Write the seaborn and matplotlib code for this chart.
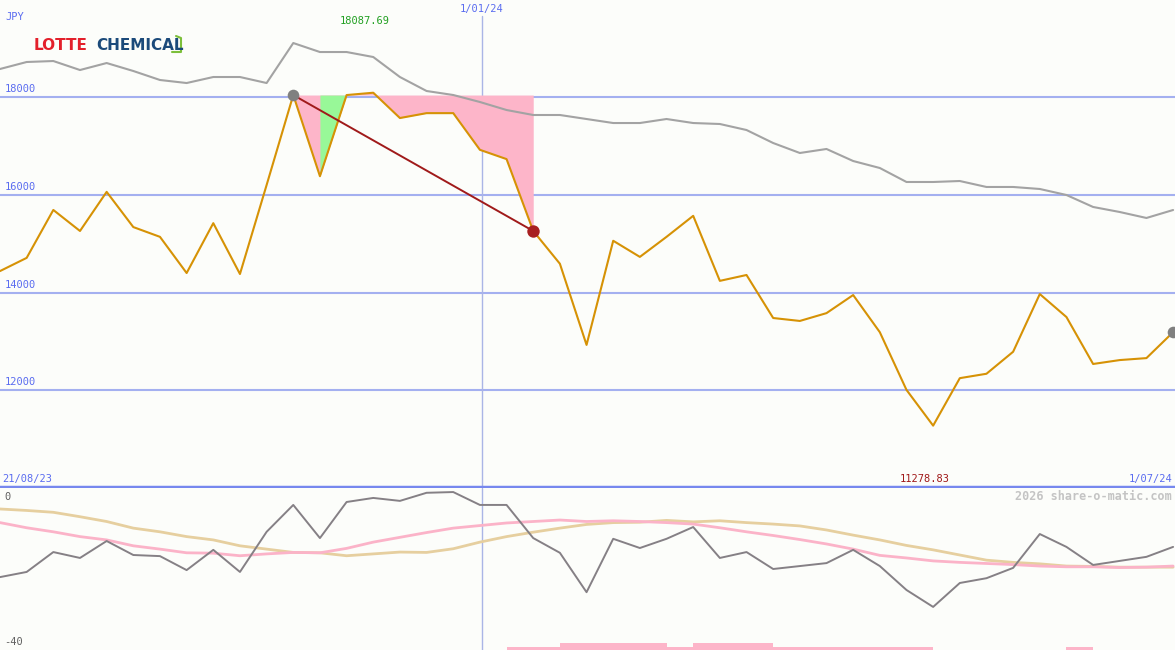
import pandas as pd
import matplotlib
matplotlib.use("Agg")
import matplotlib.pyplot as plt
import matplotlib.transforms as mtransforms
from matplotlib.lines import Line2D
import seaborn as sns

# weekly closes, 28/08/23 .. 1/07/24
weeks = pd.date_range("2023-08-28", periods=45, freq="7D")

close_jpy = [14440, 14710, 15690, 15260, 16060, 15340, 15140, 14400, 15420, 14380,
             16200, 18040, 16380, 18040, 18087.69, 17570, 17670, 17670, 16920, 16730,
             15260, 14590, 12930, 15060, 14730, 15140, 15570, 14240, 14360, 13480,
             13420, 13580, 13950, 13190, 12010, 11278.83, 12250, 12340, 12790, 13970,
             13500, 12540, 12620, 12660, 13190]

# grey comparison line in the price panel
compare_jpy = [18573, 18716, 18736, 18552, 18695, 18532, 18348, 18286, 18409, 18409,
               18286, 19104, 18920, 18920, 18818, 18409, 18123, 18041, 17898, 17734,
               17632, 17632, 17550, 17468, 17468, 17550, 17468, 17448, 17325, 17059,
               16855, 16937, 16691, 16548, 16262, 16262, 16282, 16160, 16160, 16119,
               15996, 15751, 15648, 15526, 15689]

# lower panel
momentum = [-20.7, -19.3, -13.9, -15.5, -10.9, -14.7, -15.0, -18.8, -13.3, -19.3,
            -8.4, -1.1, -10.1, -0.3, 0.8, 0.0, 2.2, 2.4, -1.1, -1.1,
            -10.1, -14.1, -24.8, -10.3, -12.8, -10.3, -7.1, -15.5, -13.9, -18.5,
            -17.7, -16.9, -13.3, -17.7, -24.2, -28.8, -22.3, -21.0, -18.2, -9.0,
            -12.5, -17.4, -16.3, -15.2, -12.5]
avg_fast = [-5.9, -7.3, -8.4, -9.7, -10.6, -12.2, -13.1, -14.1, -14.2, -14.9,
            -14.4, -14.0, -14.1, -12.9, -11.2, -9.9, -8.6, -7.4, -6.7, -6.0,
            -5.6, -5.2, -5.6, -5.4, -5.6, -5.9, -6.3, -7.3, -8.4, -9.4,
            -10.5, -11.7, -13.1, -14.8, -15.5, -16.3, -16.7, -17.0, -17.3, -17.7,
            -17.9, -17.9, -18.1, -18.0, -17.7]
avg_slow = [-2.2, -2.6, -3.1, -4.3, -5.6, -7.4, -8.4, -9.7, -10.6, -12.2,
            -13.1, -14.0, -14.1, -14.9, -14.4, -13.9, -14.0, -13.0, -11.2, -9.7,
            -8.5, -7.4, -6.4, -5.9, -5.8, -5.3, -5.7, -5.4, -5.9, -6.3,
            -6.8, -7.9, -9.3, -10.6, -12.1, -13.3, -14.7, -16.1, -16.7, -17.1,
            -17.7, -17.8, -18.0, -18.0, -18.0]
signal_bars = [0, 0, 0, 0, 0, 0, 0, 0, 0, 0,
               0, 0, 0, 0, 0, 0, 0, 0, 0, 0.9,
               0.9, 1.9, 1.9, 1.9, 1.9, 0.9, 1.9, 1.9, 1.9, 0.9,
               0.9, 0.9, 0.9, 0.9, 0.9, 0, 0, 0, 0, 0,
               0.9, 0, 0, 0, 0]

grid_levels = [12000, 14000, 16000, 18000]
trend_start, trend_end = 11, 20
green_segment = 12

BG = "#fcfdfa"
BLUE_TXT = "#5a6cf0"
GRID = "#a4b0f0"
MONO = "DejaVu Sans Mono"

sns.set_style("white")
plt.rcParams["font.family"] = ["DejaVu Sans"]

fig = plt.figure(figsize=(11.75, 6.5), dpi=100, facecolor=BG)
ax = fig.add_axes([0, 163 / 650, 1, 487 / 650], facecolor=BG)
ax2 = fig.add_axes([0, 0, 1, 162 / 650], facecolor=BG)

x_left = weeks[0]
x_right = weeks[0] + pd.Timedelta(days=308.5)
new_year = pd.Timestamp("2024-01-01") + pd.Timedelta(days=0.5)

# ---- price panel
for lvl in grid_levels:
    ax.axhline(lvl, color=GRID, lw=1.5, zorder=1)
ax.axvline(new_year, ymax=0.967, color="#aab5e6", lw=1, zorder=1)

start_lvl = close_jpy[trend_start]
span = slice(trend_start, trend_end + 1)
ax.fill_between(weeks[span], close_jpy[span], start_lvl, color="#fdb5c9", lw=0, zorder=2)
g = slice(green_segment, green_segment + 2)
ax.fill_between(weeks[g], close_jpy[g], start_lvl, color="#98f898", lw=0, zorder=2)

sns.lineplot(x=weeks, y=compare_jpy, ax=ax, color="#a3a3a3", lw=1.5, zorder=3)
sns.lineplot(x=weeks, y=close_jpy, ax=ax, color="#d69205", lw=1.5, zorder=4)
ax.plot([weeks[trend_start], weeks[trend_end]], [close_jpy[trend_start], close_jpy[trend_end]],
        color="#a01a1a", lw=1.4, zorder=5)
ax.scatter([weeks[trend_start], weeks[-1]], [close_jpy[trend_start], close_jpy[-1]],
           s=70, color="#808080", zorder=6, lw=0)
ax.scatter([weeks[trend_end]], [close_jpy[trend_end]], s=80, color="#a82020", zorder=6, lw=0)

ax.set_xlim(x_left, x_right)
ax.set_ylim(10024, 19984)
ax.set_xticks([])
ax.set_yticks([])
for s in ["top", "left", "right"]:
    ax.spines[s].set_visible(False)
ax.spines["bottom"].set_color("#7788ee")
ax.spines["bottom"].set_linewidth(2.5)

ylab = mtransforms.blended_transform_factory(ax.transAxes, ax.transData)
for lvl in grid_levels:
    ax.text(0.004, lvl + 60, str(lvl), transform=ylab, ha="left", va="bottom",
            color=BLUE_TXT, fontsize=7.5, family=MONO)

# ---- lower panel
ax2.axvline(new_year, color="#aab5e6", lw=1, zorder=1)
ax2.bar(weeks, signal_bars, width=7, align="edge", bottom=-40.5, color="#fdb5c9", lw=0, zorder=2)
sns.lineplot(x=weeks, y=avg_slow, ax=ax2, color="#e6cf9f", lw=2, zorder=3)
sns.lineplot(x=weeks, y=avg_fast, ax=ax2, color="#fbb3c8", lw=2, zorder=3)
sns.lineplot(x=weeks, y=momentum, ax=ax2, color="#858085", lw=1.4, zorder=4)
ax2.set_xlim(x_left, x_right)
ax2.set_ylim(-40.5, 3.5)
ax2.set_xticks([])
ax2.set_yticks([])
for s in ax2.spines.values():
    s.set_visible(False)
ylab2 = mtransforms.blended_transform_factory(ax2.transAxes, ax2.transData)
ax2.text(0.004, -0.2, "0", transform=ylab2, ha="left", va="bottom", color="#606060",
         fontsize=7.5, family=MONO)
ax2.text(0.004, -39.6, "-40", transform=ylab2, ha="left", va="bottom", color="#606060",
         fontsize=7.5, family=MONO)


def ftext(px, py, s, **kw):
    fig.text(px / 1175, 1 - py / 650, s, **kw)


ftext(5, 17, "JPY", color=BLUE_TXT, fontsize=7.5, family=MONO, va="center")
ftext(365, 21, "18087.69", color="#22a022", fontsize=7.5, family=MONO, va="center", ha="center")
ftext(482, 9, "1/01/24", color=BLUE_TXT, fontsize=7.5, family=MONO, va="center", ha="center")
ftext(2, 479, "21/08/23", color=BLUE_TXT, fontsize=7.5, family=MONO, va="center")
ftext(925, 479, "11278.83", color="#a01818", fontsize=7.5, family=MONO, va="center", ha="center")
ftext(1172, 479, "1/07/24", color=BLUE_TXT, fontsize=7.5, family=MONO, va="center", ha="right")
ftext(1172, 496, "2026 share-o-matic.com", color="#c4c4c4", fontsize=8.5, family=MONO,
      weight="bold", va="center", ha="right")

# logo
ftext(34, 46, "LOTTE", color="#e3202b", fontsize=11, weight="bold", va="center")
ftext(96, 46, "CHEMICAL", color="#1b4a7a", fontsize=11, weight="bold", va="center")
fig.add_artist(Line2D([172 / 1175, 181 / 1175, 181 / 1175, 176 / 1175],
                      [1 - 52 / 650, 1 - 52 / 650, 1 - 38 / 650, 1 - 36 / 650],
                      color="#7cbf3a", lw=1.5))

fig.savefig("out.png", dpi=100, facecolor=BG)
